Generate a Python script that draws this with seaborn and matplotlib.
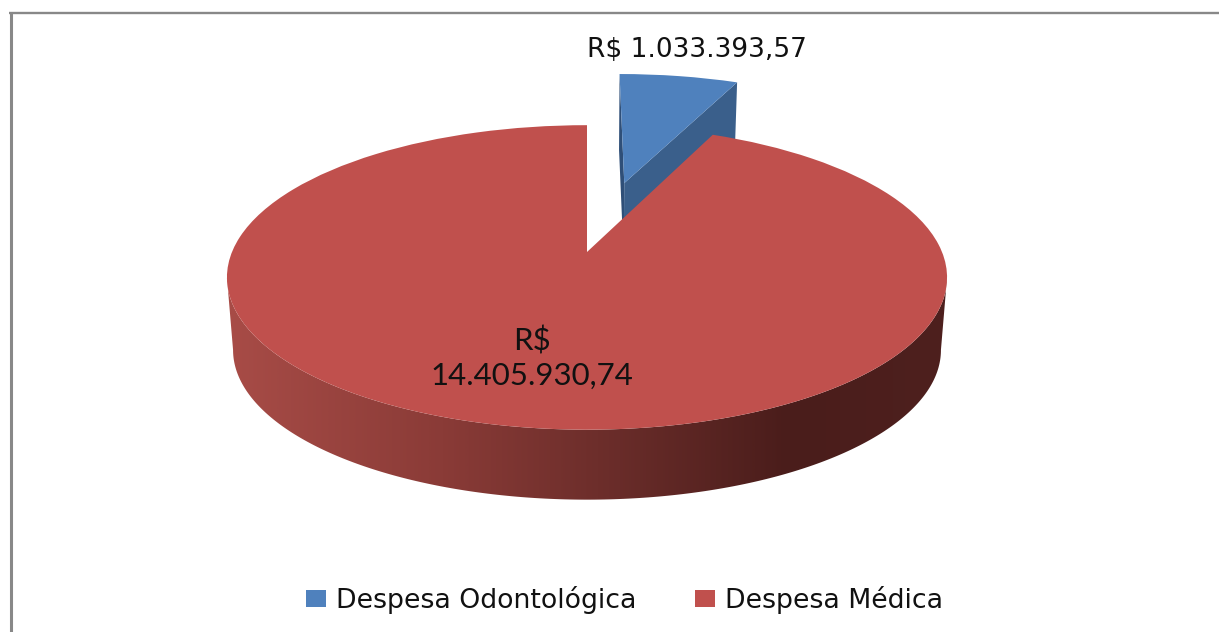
import numpy as np
import seaborn as sns
import matplotlib
matplotlib.use("Agg")
import matplotlib.pyplot as plt
from matplotlib.colors import LinearSegmentedColormap
from matplotlib.patches import Polygon
from matplotlib.transforms import Transform, Affine2D

# ---- data ----
categories = ["Despesa Odontológica", "Despesa Médica"]
values = [1033393.57, 14405930.74]
value_labels = ["R$ 1.033.393,57", "R$\n14.405.930,74"]
colors = ["#4f81bd", "#c0504d"]
explode = [0.516, 0.0]

# ---- layout of the 3D projection (pixels) ----
W, H = 1219, 632
CX, CY = 587.0, 252.0
BX, BY, K = 355.0, 148.0, 0.167
DROP, SHRINK = 73.0, 0.983
BLUE_SHIFT = 2.0

sns.set_theme(style="white")
plt.rcParams["font.family"] = ["DejaVu Sans"]


class Perspective(Transform):
    input_dims = 2
    output_dims = 2
    is_separable = False
    has_inverse = False

    def __init__(self, lowered=False):
        super().__init__()
        self.lowered = lowered

    def transform_non_affine(self, values):
        v = np.asarray(values, dtype=float)
        den = 1 + K * v[:, 1]
        sx, sy = BX * v[:, 0] / den, BY * v[:, 1] / den
        if self.lowered:
            return np.column_stack([CX + SHRINK * sx, CY - SHRINK * sy + DROP])
        return np.column_stack([CX + sx, CY - sy])


top = Perspective(False)
low = Perspective(True)

fig = plt.figure(figsize=(W / 100, H / 100), dpi=100, facecolor="white")
ax = fig.add_axes([0, 0, 1, 1])
wedges, _ = ax.pie(values, colors=colors, startangle=90, counterclock=False,
                   explode=explode, radius=1.0,
                   wedgeprops=dict(linewidth=0, zorder=5))
ax.set_aspect("auto")
ax.axis("off")
blue, red = wedges
red.set_transform(top + ax.transData)
blue.set_transform(top + Affine2D().translate(BLUE_SHIFT, 0) + ax.transData)


def rim(center, theta):
    t = np.deg2rad(theta)
    return np.column_stack([center[0] + np.cos(t), center[1] + np.sin(t)])


# cut faces of the exploded slice
nudge = np.array([BLUE_SHIFT, 0.0])
blue_edge = np.array([blue.center, rim(blue.center, [blue.theta1])[0]])
face = np.vstack([top.transform(blue_edge), low.transform(blue_edge)[::-1]]) + nudge
ax.add_patch(Polygon(face, closed=True, fc="#3a5f8b", ec="none", zorder=3))
left_edge = np.array([blue.center, rim(blue.center, [blue.theta2])[0]])
face2 = np.vstack([top.transform(left_edge), low.transform(left_edge)[::-1]]) + nudge
ax.add_patch(Polygon(face2, closed=True, fc="#2f4f78", ec="none", zorder=2.9))

# front wall of the large slice, with a left-to-right shading
arc = rim(red.center, np.linspace(189.6, 350.4, 240))
wall = np.vstack([top.transform(arc), low.transform(arc)[::-1]])
clip = Polygon(wall, closed=True, fc="none", ec="none", zorder=1)
ax.add_patch(clip)
shade = LinearSegmentedColormap.from_list(
    "wall", [(0.0, "#a84c47"), (0.3, "#8a3b37"), (0.5, "#6f2f2c"),
             (0.78, "#4a1d1b"), (1.0, "#4e201e")])
img = ax.imshow(np.linspace(0, 1, 512)[None, :], cmap=shade, aspect="auto",
                extent=[226, 947, 520, 250], zorder=2, interpolation="bilinear")
img.set_clip_path(clip)

ax.set_xlim(0, W)
ax.set_ylim(H, 0)

# chart frame (open at right and bottom, as cropped)
ax.plot([10.5, 10.5], [12, H], color="#888888", lw=2.2, solid_capstyle="butt", zorder=6)
ax.plot([9, W], [13, 13], color="#888888", lw=1.7, solid_capstyle="butt", zorder=6)

# value labels
ax.text(697, 50, value_labels[0], ha="center", va="center", fontsize=19,
        color="#111111", zorder=7)
ax.text(532, 358, value_labels[1], ha="center", va="center", fontsize=22.5,
        color="#111111", linespacing=1.25, family="Lato", zorder=7)

leg = ax.legend(wedges, categories, ncol=2, frameon=False, loc="center",
                bbox_to_anchor=(624.5 / W, 1 - 600 / H), fontsize=19.3,
                handlelength=0.74, handleheight=0.63, handletextpad=0.37,
                columnspacing=2.2, labelcolor="#111111")

fig.savefig("out.png", dpi=100)
